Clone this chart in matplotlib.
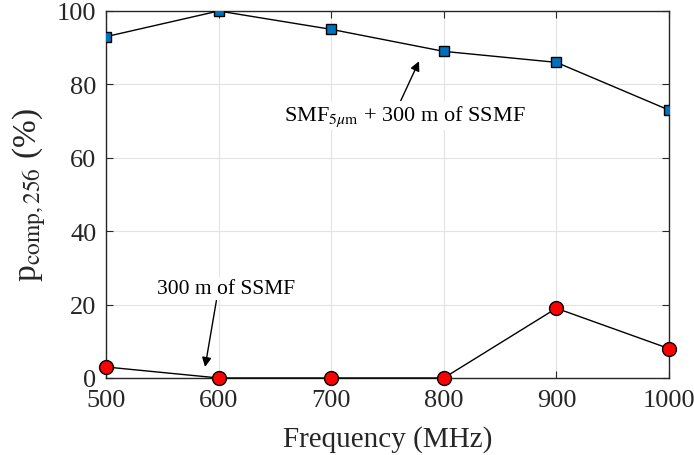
import numpy as np
import matplotlib
matplotlib.use("Agg")
import matplotlib.pyplot as plt

plt.rcParams['font.family'] = ['Liberation Serif', 'DejaVu Serif']
plt.rcParams['mathtext.fontset'] = 'stix'

freq = [500, 600, 700, 800, 900, 1000]
smf5_ssmf = [93, 100, 95, 89, 86, 73]
ssmf_only = [3, 0, 0, 0, 19, 8]
xticks = [500, 600, 700, 800, 900, 1000]
yticks = [0, 20, 40, 60, 80, 100]

axcol = '#262626'

fig = plt.figure(figsize=(6.94, 4.56), dpi=100)
ax = fig.add_axes([0.1527, 0.1689, 0.8113, 0.8048])

ax.plot(freq, smf5_ssmf, '-s', color='k', lw=1, markersize=7.5,
        markerfacecolor='#0072BD', markeredgecolor='k', markeredgewidth=1, zorder=3)
ax.plot(freq, ssmf_only, '-o', color='k', lw=1, markersize=10,
        markerfacecolor='#FF0000', markeredgecolor='k', markeredgewidth=1, zorder=3,
        clip_on=False)

ax.set_xlim(500, 1000)
ax.set_ylim(0, 100)
ax.set_xticks(xticks)
ax.set_yticks(yticks)
ax.grid(True, color='#e3e3e3', lw=0.8)
ax.set_axisbelow(True)
ax.tick_params(direction='in', top=True, right=True, labelsize=19, colors=axcol,
               length=5)
ax.tick_params(axis='x', pad=8)
ax.tick_params(axis='y', pad=7)
for s in ax.spines.values():
    s.set_color(axcol)
    s.set_linewidth(1)

ax.set_xlabel('Frequency (MHz)', fontsize=21, color=axcol, labelpad=10)
ax.set_ylabel(r'p$_{\mathrm{comp,256}}$ (%)', fontsize=24, color=axcol, labelpad=6)

ax.annotate(r'SMF$_{5\mu\mathrm{m}}$ + 300 m of SSMF', xy=(778, 86.3), xytext=(765, 71.5),
            fontsize=16, ha='center', va='center', color='k',
            bbox=dict(boxstyle='square,pad=0.1', fc='white', ec='none'),
            arrowprops=dict(arrowstyle='-|>', color='k', lw=1, mutation_scale=14,
                            shrinkA=0, shrinkB=0, relpos=(0.48, 1.0)))
ax.annotate('300 m of SSMF', xy=(588, 3), xytext=(607, 24.3),
            fontsize=15.5, ha='center', va='center', color='k',
            bbox=dict(boxstyle='square,pad=0.1', fc='white', ec='none'),
            arrowprops=dict(arrowstyle='-|>', color='k', lw=1, mutation_scale=14,
                            shrinkA=0, shrinkB=0, relpos=(0.43, 0.0)))

fig.savefig('out.png', dpi=100)
